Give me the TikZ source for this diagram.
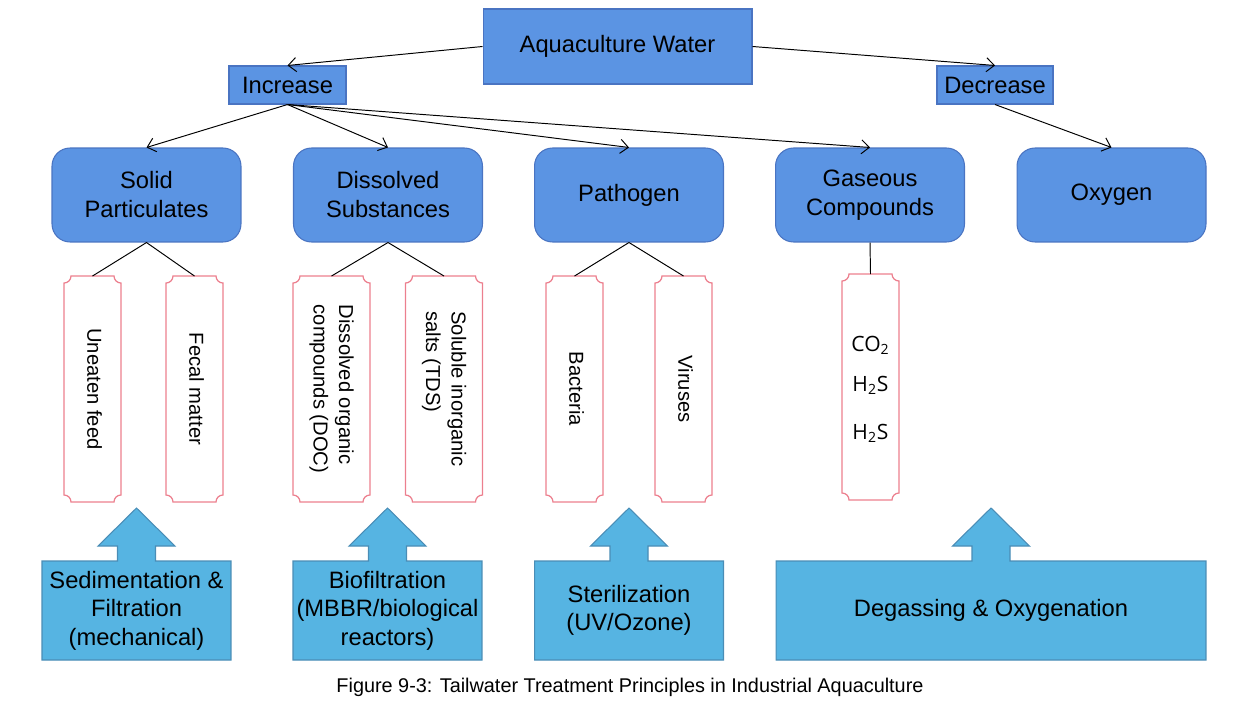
\documentclass[tikz,border=0pt]{standalone}
\usepackage{graphicx, color}
\usepackage{fontspec}
\setmainfont{Liberation Sans}
\newfontfamily\gasfont{Open Sans}
\usepackage{tikz}
\usetikzlibrary{positioning,calc,arrows.meta}
\pgfdeclarelayer{back}
\pgfsetlayers{back,main}

\definecolor{topblue}{HTML}{5B94E3}
\definecolor{topedge}{HTML}{4A74C2}
\definecolor{lowblue}{HTML}{56B4E2}
\definecolor{lowedge}{HTML}{4A8DB6}
\definecolor{plaquepink}{HTML}{EC7F8E}

\tikzset{
  headbox/.style={draw=topedge, fill=topblue, line width=0.6pt, inner sep=0pt,
    font=\fontsize{13.5}{16.5}\selectfont, align=center},
  catbox/.style={headbox, rounded corners=0.36cm, minimum width=3.78cm, minimum height=1.88cm},
  itembox/.style={inner sep=0pt, outer sep=0pt, minimum height=4.52cm,
    font=\fontsize{11.5}{14.5}\selectfont},
  lowbox/.style={inner sep=0pt, outer sep=0pt, minimum height=1.98cm,
    font=\fontsize{13.5}{16.3}\selectfont, align=center},
  plaqueline/.style={draw=plaquepink, line width=0.7pt},
  blockline/.style={draw=lowedge, fill=lowblue, line width=0.6pt},
  link/.style={line width=0.55pt},
  flow/.style={link, -{Straight Barb[length=4.5pt,width=8pt]}}
}

% text running top to bottom
\newcommand{\vtext}[1]{\rotatebox[origin=c]{-90}{\begin{tabular}{@{}l@{}}#1\end{tabular}}}
% outline with hollow corners round an item node
\newcommand{\plaqueframe}[1]{%
  \draw[plaqueline] ($(#1.north west)+(0,7)$) .. controls +(3.9,0) and +(0,3.9) .. ($(#1.north west)+(7,0)$)
    -- ($(#1.north east)+(-7,0)$) .. controls +(0,3.9) and +(-3.9,0) .. ($(#1.north east)+(0,7)$)
    -- ($(#1.south east)+(0,-7)$) .. controls +(-3.9,0) and +(0,-3.9) .. ($(#1.south east)+(-7,0)$)
    -- ($(#1.south west)+(7,0)$) .. controls +(0,-3.9) and +(3.9,0) .. ($(#1.south west)+(0,-7)$)
    -- cycle;}
% box with an upward arrow on top
\newcommand{\blockarrow}[1]{%
  \draw[blockline] (#1.south west) -- (#1.north west) -- ($(#1.north)+(-19,0)$) -- ++(0,-15)
    -- ++(-19.5,0) -- ($(#1.north)+(0,-53)$) -- ($(#1.north)+(38.5,-15)$)
    -- ($(#1.north)+(19,-15)$) -- ($(#1.north)+(19,0)$) -- (#1.north east)
    -- (#1.south east) -- cycle;}

\begin{document}
\begin{tikzpicture}[x=0.02cm, y=-0.02cm]
    \useasboundingbox (0,0) rectangle (1250,703);

    % top level
    \node[headbox, minimum width=5.38cm, minimum height=1.5cm] (aqua) at (617.5,46.5) {Aquaculture Water};
    \node[headbox, minimum width=2.34cm, minimum height=0.76cm] (inc) at (287.5,85) {Increase};
    \node[headbox, minimum width=2.32cm, minimum height=0.76cm] (dec) at (995,85) {Decrease};

    % categories
    \node[catbox] (solid) at (146.5,195) {Solid\\Particulates};
    \node[catbox] (dissolved) at (388,195) {Dissolved\\Substances};
    \node[catbox] (pathogen) at (629,195) {\raisebox{-1.2pt}{Pathogen}};
    \node[catbox] (gaseous) at (870,195) {Gaseous\\Compounds};
    \node[catbox] (oxygen) at (1111.5,195) {\raisebox{-1.2pt}{Oxygen}};

    % items
    \node[itembox, minimum width=1.14cm] (feed) at (92.5,389) {\vtext{Uneaten feed}};
    \node[itembox, minimum width=1.14cm] (fecal) at (194.5,389) {\vtext{Fecal matter}};
    \node[itembox, minimum width=1.54cm] (doc) at (331.5,389) {\vtext{Dissolved organic\\compounds (DOC)}};
    \node[itembox, minimum width=1.54cm] (tds) at (444,389) {\vtext{Soluble inorganic\\salts (TDS)}};
    \node[itembox, minimum width=1.14cm] (bact) at (574.5,389) {\vtext{Bacteria}};
    \node[itembox, minimum width=1.14cm] (vir) at (683.5,389) {\vtext{Viruses}};
    \node[itembox, minimum width=1.14cm, font=\gasfont\fontsize{12}{23}\selectfont] (gas) at (870.5,387)
         {\raisebox{-3.5pt}{\begin{tabular}{@{}c@{}}CO\textsubscript{2}\\H\textsubscript{2}S\\[4pt]H\textsubscript{2}S\end{tabular}}};
    \foreach \n in {feed,fecal,doc,tds,bact,vir,gas}
        \plaqueframe{\n};

    % treatments
    \node[lowbox, minimum width=3.78cm] (mech) at (136.5,610.5) {Sedimentation \&\\Filtration\\(mechanical)};
    \node[lowbox, minimum width=3.78cm] (bio) at (387.5,610.5) {Biofiltration\\(MBBR/biological\\reactors)};
    \node[lowbox, minimum width=3.78cm] (steril) at (629,610.5) {Sterilization\\(UV/Ozone)};
    \node[lowbox, minimum width=8.6cm] (degas) at (991,610.5) {Degassing \& Oxygenation};
    \begin{pgfonlayer}{back}
        \foreach \n in {mech,bio,steril,degas}
            \blockarrow{\n};
    \end{pgfonlayer}

    \node[font=\fontsize{11.3}{13}\selectfont] (caption) at (630,687)
         {Figure 9-3: Tailwater Treatment Principles in Industrial Aquaculture};

    % connectors
    \draw[flow] (aqua.west) -- (inc.north);
    \draw[flow] (aqua.east) -- (dec.north);
    \draw[flow] (dec.south) -- (oxygen.north);
    \foreach \c in {solid,dissolved,pathogen,gaseous}
        \draw[flow] (inc.south) -- (\c.north);
    \draw[link] (solid.south) -- (feed.north)
                (solid.south) -- (fecal.north)
                (dissolved.south) -- (doc.north)
                (dissolved.south) -- (tds.north)
                (pathogen.south) -- (bact.north)
                (pathogen.south) -- (vir.north)
                (gaseous.south) -- (gas.north);
\end{tikzpicture}
\end{document}
